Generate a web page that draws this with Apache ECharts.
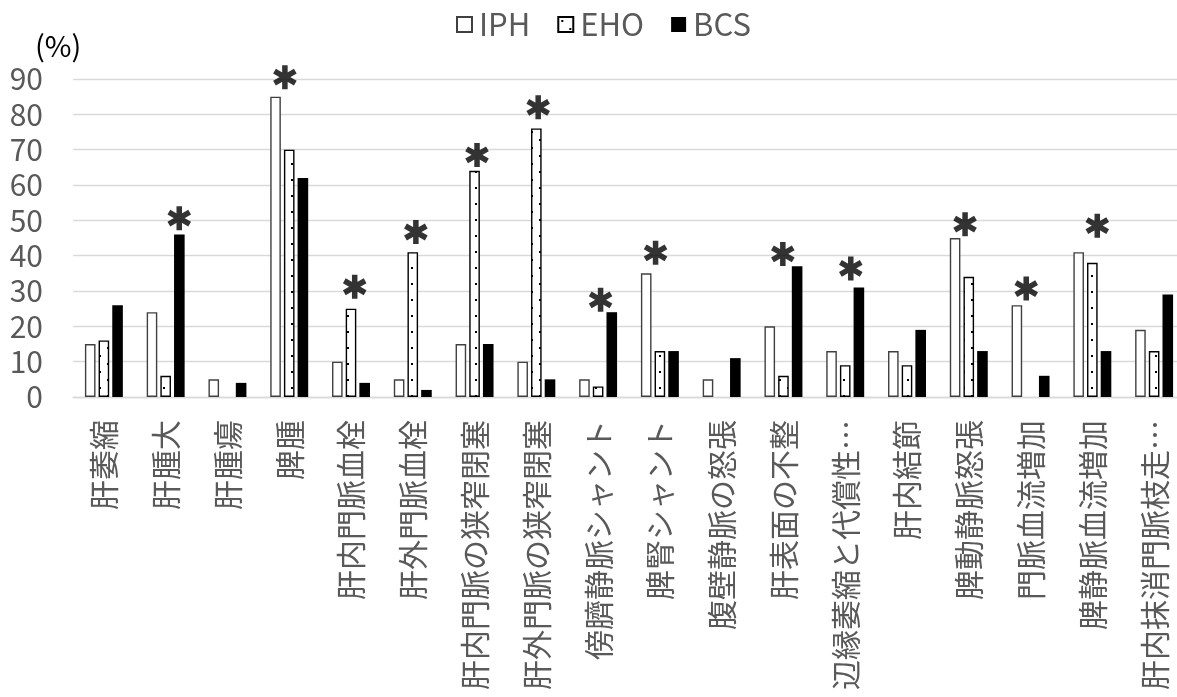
<!DOCTYPE html>
<html>
<head>
<meta charset="utf-8">
<script src="https://cdn.jsdelivr.net/npm/echarts@6/dist/echarts.min.js"></script>
<style>
  html, body { margin: 0; padding: 0; background: #fff; }
  #chart { width: 1177px; height: 697px; }
</style>
</head>
<body>
<div id="chart"></div>
<script>
// Findings (%) by disease group
const categories = [
  '肝萎縮', '肝腫大', '肝腫瘍', '脾腫', '肝内門脈血栓', '肝外門脈血栓',
  '肝内門脈の狭窄閉塞', '肝外門脈の狭窄閉塞', '傍臍静脈シャント', '脾腎シャント',
  '腹壁静脈の怒張', '肝表面の不整', '辺縁萎縮と代償性…', '肝内結節',
  '脾動静脈怒張', '門脈血流増加', '脾静脈血流増加', '肝内抹消門脈枝走…'
];
const seriesNames = ['IPH', 'EHO', 'BCS'];
const iphValues = [15, 24, 5, 85, 10, 5, 15, 10, 5, 35, 5, 20, 13, 13, 45, 26, 41, 19];
const ehoValues = [16, 6, 0, 70, 25, 41, 64, 76, 3, 13, 0, 6, 9, 9, 34, 0, 38, 13];
const bcsValues = [26, 46, 4, 62, 4, 2, 15, 5, 24, 13, 11, 37, 31, 19, 13, 6, 13, 29];
const yTicks = { min: 0, max: 90, step: 10 };

// Significance marks: [category position, value level]
const significanceMarks = [
  [1.22, 50.6], [2.93, 90.5], [4.06, 31.2], [5.05, 46.7], [6.04, 68.5],
  [7.03, 82.0], [8.04, 27.5], [8.93, 40.8], [10.99, 40.5], [12.09, 36.4],
  [13.94, 48.9], [14.93, 30.7], [16.08, 48.5]
];

// Zero values get no bar at all (avoids a bordered hairline on the axis)
function barData(values) {
  return values.map(function (v) { return v === 0 ? '-' : v; });
}

// Dotted fill used for the EHO bars
function dotPattern() {
  const c = document.createElement('canvas');
  c.width = 16; c.height = 16;
  const g = c.getContext('2d');
  g.fillStyle = '#ffffff';
  g.fillRect(0, 0, 16, 16);
  g.fillStyle = '#000000';
  g.fillRect(3, 3, 2, 2);
  g.fillRect(11, 11, 2, 2);
  return c;
}

// Six-armed asterisk symbol
function asteriskPath() {
  const w = 0.46;
  let d = '';
  [90, 30, -30].forEach(function (deg) {
    const r = deg * Math.PI / 180;
    const c = Math.cos(r), s = Math.sin(r);
    const px = -s * w / 2, py = c * w / 2;
    const pts = [
      [c + px, s + py], [c - px, s - py], [-c - px, -s - py], [-c + px, -s + py]
    ];
    d += 'M' + pts.map(function (p) { return p[0].toFixed(4) + ' ' + p[1].toFixed(4); }).join(' L') + ' Z ';
  });
  return 'path://' + d;
}

const font = '"Noto Sans CJK JP", "Noto Sans", sans-serif';
const textGray = '#595959';

const chart = echarts.init(document.getElementById('chart'), null, { renderer: 'canvas' });

const barCommon = {
  type: 'bar',
  barWidth: 10.6,
  barGap: '29%',
  animation: false
};

chart.setOption({
  animation: false,
  backgroundColor: '#ffffff',
  legend: {
    data: seriesNames,
    left: 451,
    top: 4,
    itemWidth: 15,
    itemHeight: 15,
    itemGap: 27,
    icon: 'rect',
    textStyle: { color: textGray, fontSize: 31, fontFamily: font, padding: [0, 0, 0, 2] }
  },
  graphic: [{
    type: 'text',
    left: 35,
    top: 31,
    style: { text: '(%)', fill: '#000000', fontSize: 29, fontFamily: font }
  }],
  grid: {
    left: 73, right: -8, top: 79, bottom: 300,
    containLabel: false,
    outerBoundsMode: 'none'
  },
  xAxis: [{
    type: 'category',
    data: categories,
    axisLine: { show: true, lineStyle: { color: '#d9d9d9', width: 1.3 } },
    axisTick: { show: false },
    axisLabel: {
      interval: 0,
      rotate: 90,
      margin: 23,
      color: textGray,
      fontSize: 30,
      fontFamily: font
    }
  }, {
    type: 'value',
    min: -0.5,
    max: 17.5,
    show: false
  }],
  yAxis: {
    type: 'value',
    min: yTicks.min,
    max: yTicks.max,
    interval: yTicks.step,
    axisLine: { show: false },
    axisTick: { show: false },
    splitLine: { lineStyle: { color: '#d9d9d9', width: 1.3 } },
    axisLabel: { color: textGray, fontSize: 30, fontFamily: font, margin: 30 }
  },
  series: [
    Object.assign({}, barCommon, {
      name: seriesNames[0],
      data: barData(iphValues),
      itemStyle: { color: '#ffffff', borderColor: '#404040', borderWidth: 1.4 }
    }),
    Object.assign({}, barCommon, {
      name: seriesNames[1],
      data: barData(ehoValues),
      itemStyle: { color: { image: dotPattern(), repeat: 'repeat' }, borderColor: '#000000', borderWidth: 1.4 }
    }),
    Object.assign({}, barCommon, {
      name: seriesNames[2],
      data: barData(bcsValues),
      itemStyle: { color: '#000000' }
    }),
    {
      type: 'scatter',
      xAxisIndex: 1,
      yAxisIndex: 0,
      data: significanceMarks,
      symbol: asteriskPath(),
      symbolSize: 24,
      symbolKeepAspect: true,
      clip: false,
      itemStyle: { color: '#000000' },
      z: 5,
      silent: true,
      animation: false
    }
  ]
});
</script>
</body>
</html>
